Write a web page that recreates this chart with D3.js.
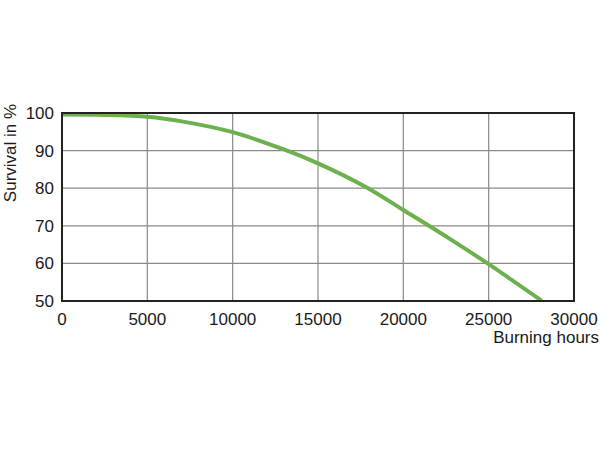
<!DOCTYPE html>
<html><head><meta charset="utf-8">
<script src="https://cdn.jsdelivr.net/npm/d3@7"></script>
<style>body{margin:0;background:#fff}svg{display:block}text{font-family:"Liberation Sans",Arial,sans-serif;fill:#1a1a1a}</style>
</head><body><svg id="c" width="600" height="450"></svg>
<script>
const hours = [0, 2500, 5000, 7100, 10000, 13000, 15000, 17850, 20000, 22700, 25000, 28100];
const survival = [99.6, 99.5, 99.0, 97.7, 94.9, 90.3, 86.6, 80.2, 74.2, 66.6, 59.8, 50.1];
const xTicks = [0, 5000, 10000, 15000, 20000, 25000, 30000];
const yTicks = [50, 60, 70, 80, 90, 100];
const xTitle = "Burning hours";
const yTitle = "Survival in %";

const svg = d3.select("#c");
const L = 62, R = 574, T = 113, B = 301;
const x = d3.scaleLinear().domain([0, 30000]).range([L, R]);
const y = d3.scaleLinear().domain([50, 100]).range([B, T]);

svg.append("g").selectAll("line").data(xTicks).join("line")
  .attr("x1", d => x(d)).attr("x2", d => x(d)).attr("y1", T).attr("y2", B)
  .attr("stroke", "#8a8a8a").attr("stroke-width", 1.2);
svg.append("g").selectAll("line").data(yTicks).join("line")
  .attr("y1", d => y(d)).attr("y2", d => y(d)).attr("x1", L).attr("x2", R)
  .attr("stroke", "#8a8a8a").attr("stroke-width", 1.2);

const data = hours.map((h, i) => [h, survival[i]]);
svg.append("path").datum(data)
  .attr("d", d3.line().x(d => x(d[0])).y(d => y(d[1])).curve(d3.curveCatmullRom.alpha(0.5)))
  .attr("fill", "none").attr("stroke", "#6cb04f").attr("stroke-width", 4);

svg.append("rect").attr("x", L).attr("y", T).attr("width", R - L).attr("height", B - T)
  .attr("fill", "none").attr("stroke", "#222").attr("stroke-width", 2);

svg.append("g").selectAll("text").data(xTicks).join("text")
  .attr("x", d => x(d)).attr("y", 325).attr("text-anchor", "middle")
  .attr("font-size", 17).text(d => d);
svg.append("g").selectAll("text").data(yTicks).join("text")
  .attr("x", 54).attr("y", d => y(d) + 6).attr("text-anchor", "end")
  .attr("font-size", 17).text(d => d);

svg.append("text").attr("x", 599).attr("y", 343).attr("text-anchor", "end")
  .attr("font-size", 17).text(xTitle);
svg.append("text").attr("transform", "translate(16,153) rotate(-90)")
  .attr("text-anchor", "middle").attr("font-size", 17).text(yTitle);
</script></body></html>
